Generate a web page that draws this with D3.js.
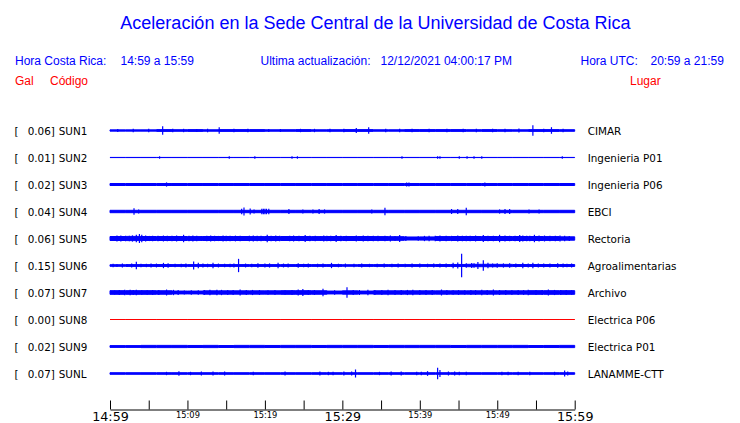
<!DOCTYPE html>
<html><head><meta charset="utf-8">
<script src="https://cdn.jsdelivr.net/npm/d3@7"></script>
<style>
html,body{margin:0;padding:0;background:#fff;}
svg{display:block;}
.sans{font-family:"Liberation Sans",Arial,sans-serif;}
.dv{font-family:"DejaVu Sans",sans-serif;}
</style></head>
<body>
<div id="chart"></div>
<script>
// ---------- DATA ----------
const title = "Aceleración en la Sede Central de la Universidad de Costa Rica";
const horaCR = "14:59 a 15:59";
const actualizacion = "12/12/2021 04:00:17 PM";
const horaUTC = "20:59 a 21:59";

const stations = ["SUN1","SUN2","SUN3","SUN4","SUN5","SUN6","SUN7","SUN8","SUN9","SUNL"];
const places = ["CIMAR","Ingenieria P01","Ingenieria P06","EBCI","Rectoria","Agroalimentarias","Archivo","Electrica P06","Electrica P01","LANAMME-CTT"];
const peakGal = [0.06,0.01,0.02,0.04,0.06,0.15,0.07,0.00,0.02,0.07];

// background amplitude (Gal), one value per 2-minute block (30 blocks)
const bgSUN1 = [0.008,0.008,0.008,0.011,0.010,0.011,0.009,0.011,0.011,0.011,0.009,0.010,0.011,0.009,0.010,0.011,0.011,0.009,0.009,0.011,0.011,0.011,0.011,0.010,0.011,0.010,0.009,0.011,0.011,0.010];
const bgSUN2 = [0.001,0.001,0.001,0.001,0.001,0.001,0.001,0.001,0.001,0.001,0.001,0.001,0.001,0.001,0.001,0.001,0.001,0.001,0.001,0.001,0.001,0.001,0.001,0.001,0.001,0.001,0.001,0.001,0.001,0.001];
const bgSUN3 = [0.0125,0.0125,0.0125,0.0125,0.0125,0.0125,0.0125,0.0125,0.0125,0.0125,0.0125,0.0125,0.0125,0.0125,0.0125,0.0125,0.0125,0.0125,0.0125,0.0125,0.0125,0.0125,0.0125,0.0125,0.0125,0.0125,0.0125,0.0125,0.0125,0.0125];
const bgSUN4 = [0.015,0.015,0.015,0.015,0.015,0.015,0.015,0.015,0.015,0.015,0.015,0.015,0.015,0.015,0.015,0.015,0.015,0.015,0.015,0.015,0.015,0.015,0.015,0.015,0.015,0.015,0.015,0.015,0.015,0.015];
const bgSUN5 = [0.025,0.026,0.025,0.025,0.025,0.024,0.025,0.025,0.025,0.024,0.025,0.025,0.025,0.024,0.025,0.025,0.025,0.024,0.023,0.019,0.020,0.024,0.025,0.025,0.025,0.025,0.025,0.025,0.024,0.021];
const bgSUN6 = [0.010,0.011,0.011,0.012,0.011,0.011,0.011,0.011,0.011,0.011,0.011,0.011,0.012,0.011,0.011,0.010,0.011,0.011,0.011,0.011,0.011,0.012,0.013,0.015,0.015,0.014,0.012,0.012,0.012,0.012];
const bgSUN7 = [0.023,0.023,0.023,0.022,0.018,0.018,0.021,0.021,0.021,0.021,0.021,0.023,0.023,0.022,0.018,0.021,0.018,0.021,0.021,0.021,0.021,0.021,0.021,0.021,0.021,0.021,0.021,0.023,0.023,0.023];
const bgSUN8 = [0,0,0,0,0,0,0,0,0,0,0,0,0,0,0,0,0,0,0,0,0,0,0,0,0,0,0,0,0,0];
const bgSUN9 = [0.011,0.011,0.014,0.014,0.014,0.013,0.014,0.012,0.014,0.014,0.013,0.014,0.014,0.013,0.014,0.014,0.014,0.013,0.014,0.014,0.014,0.014,0.013,0.014,0.014,0.014,0.014,0.012,0.013,0.014];
const bgSUNL = [0.010,0.010,0.010,0.010,0.010,0.010,0.010,0.010,0.010,0.010,0.010,0.010,0.010,0.010,0.010,0.010,0.010,0.010,0.010,0.010,0.010,0.010,0.010,0.010,0.010,0.010,0.010,0.010,0.010,0.010];

// spikes: [minute after 14:59, amplitude in Gal]
const spSUN1 = [[1.0,0.014],[3.0,0.015],[5.0,0.016],[6.8,0.048],[8.1,0.016],[9.5,0.015],[11.2,0.014],[12.6,0.016],[14.1,0.035],[16.0,0.015],[17.8,0.016],[20.5,0.014],[22.0,0.014],[24.6,0.015],[26.4,0.015],[28.4,0.016],[30.2,0.015],[31.8,0.025],[33.4,0.035],[35.6,0.016],[37.4,0.015],[39.0,0.015],[41.2,0.016],[43.5,0.015],[45.6,0.016],[47.3,0.015],[49.4,0.015],[51.0,0.016],[52.8,0.02],[54.6,0.06],[56.0,0.016],[57.0,0.035],[58.5,0.015]];
const spSUN2 = [[6.4,0.009],[15.4,0.009],[18.7,0.008],[23.5,0.009],[24.2,0.009],[37.7,0.008],[42.3,0.009],[42.6,0.008],[45.1,0.009],[46.1,0.009],[47.0,0.009],[48.0,0.008],[58.4,0.009]];
const spSUN3 = [[7.3,0.02],[38.3,0.02],[38.6,0.018],[48.4,0.018]];
const spSUN4 = [[3.1,0.035],[3.7,0.02],[17.0,0.028],[17.3,0.044],[18.1,0.03],[18.6,0.02],[19.6,0.028],[19.8,0.028],[20.0,0.028],[20.2,0.028],[20.5,0.028],[23.1,0.025],[24.9,0.02],[26.2,0.02],[27.0,0.025],[27.7,0.02],[33.8,0.018],[35.5,0.04],[44.1,0.025],[44.9,0.025],[46.0,0.04],[50.3,0.02],[51.0,0.025],[51.6,0.025],[54.1,0.02],[55.4,0.02]];
const spSUN5 = [[0.3,0.026],[0.9,0.031],[1.4,0.03],[2.0,0.028],[2.5,0.027],[2.9,0.033],[3.4,0.04],[3.8,0.05],[4.1,0.04],[4.6,0.03],[5.1,0.026],[5.5,0.028],[6.2,0.029],[6.9,0.031],[7.4,0.027],[8.0,0.028],[8.6,0.03],[9.0,0.026],[9.5,0.04],[10.2,0.028],[10.7,0.03],[11.2,0.027],[11.8,0.026],[12.5,0.028],[13.0,0.03],[13.5,0.028],[14.0,0.026],[14.6,0.031],[15.0,0.028],[15.5,0.028],[16.2,0.03],[16.8,0.027],[17.4,0.026],[18.0,0.029],[18.5,0.031],[19.0,0.027],[19.5,0.028],[20.3,0.04],[20.8,0.028],[21.4,0.03],[21.9,0.027],[22.5,0.026],[23.2,0.029],[23.7,0.031],[24.4,0.027],[25.2,0.036],[25.8,0.029],[26.5,0.028],[27.2,0.026],[27.6,0.03],[28.0,0.028],[28.5,0.027],[29.2,0.036],[29.8,0.028],[30.5,0.028],[31.2,0.026],[31.8,0.03],[32.7,0.031],[33.3,0.027],[34.0,0.028],[34.6,0.029],[35.5,0.028],[36.2,0.03],[36.8,0.026],[37.4,0.036],[38.2,0.025],[39.8,0.022],[40.6,0.027],[41.2,0.027],[42.0,0.028],[42.6,0.03],[43.4,0.028],[44.1,0.027],[44.9,0.031],[45.5,0.029],[46.0,0.027],[46.5,0.028],[47.2,0.031],[48.2,0.036],[48.8,0.029],[49.5,0.028],[50.3,0.04],[51.0,0.03],[51.6,0.029],[52.3,0.027],[52.9,0.036],[53.3,0.03],[53.8,0.028],[54.2,0.028],[54.8,0.04],[55.4,0.03],[56.1,0.031],[56.8,0.027],[57.5,0.028],[58.1,0.03],[58.7,0.027],[59.3,0.025]];
const spSUN6 = [[0.4,0.015],[0.9,0.014],[1.6,0.018],[2.2,0.014],[2.8,0.02],[3.4,0.04],[4.0,0.016],[4.7,0.015],[5.3,0.02],[6.0,0.018],[6.9,0.027],[7.5,0.022],[8.4,0.015],[9.2,0.016],[9.8,0.02],[10.8,0.044],[11.4,0.027],[12.0,0.02],[12.6,0.016],[13.3,0.027],[14.0,0.018],[14.8,0.015],[15.5,0.016],[16.0,0.02],[16.6,0.077],[17.5,0.018],[18.3,0.016],[19.1,0.023],[20.0,0.018],[20.6,0.02],[21.7,0.027],[22.4,0.018],[23.0,0.02],[24.3,0.023],[25.0,0.016],[25.6,0.018],[26.8,0.016],[27.5,0.018],[28.6,0.027],[29.5,0.016],[30.4,0.018],[31.5,0.016],[32.5,0.018],[33.5,0.015],[34.5,0.016],[35.4,0.018],[36.4,0.016],[37.2,0.018],[38.1,0.015],[39.0,0.018],[40.0,0.02],[41.0,0.016],[41.8,0.02],[42.6,0.02],[43.4,0.02],[44.3,0.027],[44.9,0.03],[45.4,0.14],[46.0,0.023],[46.7,0.025],[47.0,0.022],[47.5,0.036],[48.2,0.06],[48.8,0.027],[49.4,0.02],[50.0,0.022],[50.8,0.02],[51.6,0.023],[52.4,0.02],[53.3,0.027],[54.0,0.018],[54.6,0.027],[55.3,0.02],[56.0,0.018],[56.8,0.02],[57.8,0.023],[58.5,0.018],[59.0,0.016],[59.6,0.02]];
const spSUN7 = [[0.6,0.019],[1.2,0.024],[1.9,0.027],[2.6,0.027],[3.0,0.026],[3.4,0.027],[4.1,0.023],[4.8,0.022],[5.5,0.024],[6.3,0.026],[7.3,0.031],[8.2,0.027],[8.8,0.024],[9.6,0.02],[10.5,0.022],[11.4,0.023],[12.2,0.024],[12.9,0.027],[13.8,0.027],[14.4,0.027],[15.2,0.024],[15.9,0.026],[16.8,0.031],[17.6,0.024],[18.4,0.026],[19.3,0.024],[20.4,0.023],[21.3,0.026],[22.6,0.023],[23.5,0.024],[24.3,0.031],[24.9,0.036],[25.6,0.026],[26.4,0.024],[27.5,0.04],[29.0,0.022],[30.6,0.06],[31.4,0.026],[32.2,0.024],[33.3,0.027],[34.2,0.026],[35.1,0.024],[35.9,0.027],[36.8,0.026],[37.6,0.024],[38.4,0.026],[39.1,0.027],[40.0,0.024],[40.8,0.026],[41.6,0.024],[42.8,0.031],[43.5,0.026],[44.3,0.023],[45.0,0.024],[45.8,0.023],[46.6,0.026],[47.2,0.024],[48.0,0.027],[48.7,0.026],[49.5,0.031],[50.3,0.024],[51.1,0.026],[51.9,0.024],[52.7,0.026],[53.4,0.024],[54.0,0.027],[55.0,0.026],[55.8,0.024],[56.6,0.031],[57.4,0.026],[58.2,0.024],[58.9,0.026],[59.6,0.023]];
const spSUN8 = [];
const spSUN9 = [];
const spSUNL = [[7.3,0.015],[8.9,0.023],[10.4,0.015],[11.8,0.019],[13.3,0.019],[14.8,0.019],[18.5,0.015],[22.6,0.019],[27.1,0.019],[28.2,0.015],[28.8,0.015],[30.2,0.019],[31.2,0.019],[31.7,0.044],[34.8,0.015],[36.3,0.019],[37.6,0.019],[39.6,0.015],[40.2,0.015],[41.0,0.023],[42.3,0.065],[42.6,0.036],[43.7,0.019],[44.5,0.019],[45.1,0.015],[46.0,0.015],[50.6,0.015],[51.4,0.015],[52.7,0.015],[54.2,0.015],[57.4,0.015],[58.7,0.031],[59.1,0.019]];

const backgrounds = [bgSUN1,bgSUN2,bgSUN3,bgSUN4,bgSUN5,bgSUN6,bgSUN7,bgSUN8,bgSUN9,bgSUNL];
const spikes = [spSUN1,spSUN2,spSUN3,spSUN4,spSUN5,spSUN6,spSUN7,spSUN8,spSUN9,spSUNL];

const tickMinutes = [0,5,10,15,20,25,30,35,40,45,50,55,60];
const tickLabels = ["14:59","","15:09","","15:19","","15:29","","15:39","","15:49","","15:59"];
const majorLabels = ["14:59","15:29","15:59"];

// ---------- DRAWING ----------
const W = 740, H = 423;
const BLUE = "#0000ff", RED = "#ff0000";
const svg = d3.select("#chart").append("svg").attr("width", W).attr("height", H);

svg.append("text").attr("class","sans").attr("x", 375.5).attr("y", 28.5)
  .attr("text-anchor","middle").attr("font-size", 18).attr("fill", BLUE).text(title);

const hdr = [
  ["Hora Costa Rica:", 15, BLUE], [horaCR, 120.5, BLUE],
  ["Ultima actualización:", 260.5, BLUE], [actualizacion, 380.5, BLUE],
  ["Hora UTC:", 580.5, BLUE], [horaUTC, 650.5, BLUE]
];
hdr.forEach(([t,x,c]) => svg.append("text").attr("class","sans").attr("x",x).attr("y",65)
  .attr("font-size",12).attr("fill",c).text(t));
[["Gal",15],["Código",50],["Lugar",630]].forEach(([t,x]) =>
  svg.append("text").attr("class","sans").attr("x",x).attr("y",84.5)
    .attr("font-size",12).attr("fill",RED).text(t));

const x = d3.scaleLinear().domain([0,60]).range([110, 574.7]);
const yRow = d3.scalePoint().domain(stations).range([130.5, 373.5]);
const amp = d3.scaleLinear().domain([0, 0.15]).range([0, 12]);

const area = d3.area()
  .x(d => x(d[0]))
  .y0(d => -amp(d[1]))
  .y1(d => amp(d[1]))
  .curve(d3.curveStepAfter);

stations.forEach((s, i) => {
  const g = svg.append("g").attr("transform", `translate(0,${yRow(s)})`);
  const color = peakGal[i] === 0 ? RED : BLUE;
  const bg = backgrounds[i];
  const pts = bg.map((v,k) => [k*2, v]);
  pts.push([60, bg[bg.length-1]]);
  g.append("path").attr("d", area(pts)).attr("fill", color)
    .attr("stroke", color).attr("stroke-width", 1);
  g.selectAll("line.spk").data(spikes[i]).join("line").attr("class","spk")
    .attr("x1", d => x(d[0])).attr("x2", d => x(d[0]))
    .attr("y1", d => -amp(d[1]) - 0.5).attr("y2", d => amp(d[1]) + 0.5)
    .attr("stroke", color).attr("stroke-width", 1.2);

  const ty = yRow(s) + 4;
  svg.append("text").attr("class","dv").attr("x",14.5).attr("y",ty).attr("font-size",10.4).attr("fill","#000").text("[");
  svg.append("text").attr("class","dv").attr("x",27.7).attr("y",ty).attr("font-size",10.4).attr("fill","#000").text(peakGal[i].toFixed(2) + "]");
  svg.append("text").attr("class","dv").attr("x",58.7).attr("y",ty).attr("font-size",10.4).attr("fill","#000").text(s);
  svg.append("text").attr("class","dv").attr("x",587.7).attr("y",ty).attr("font-size",10.4).attr("fill","#000").text(places[i]);
});

const axis = d3.axisBottom(x).tickValues(tickMinutes)
  .tickFormat((d,i) => tickLabels[i]).tickSizeInner(-9).tickSizeOuter(0).tickPadding(2.5);
const ga = svg.append("g").attr("transform","translate(0,409.5)").call(axis);
ga.select(".domain").attr("stroke","#000");
ga.selectAll(".tick line").attr("stroke","#000");
ga.selectAll(".tick text").attr("fill","#000")
  .attr("font-family","DejaVu Sans, sans-serif")
  .attr("font-size", function(){ return majorLabels.includes(this.textContent) ? 12.7 : 8.3; });
</script>
</body></html>
